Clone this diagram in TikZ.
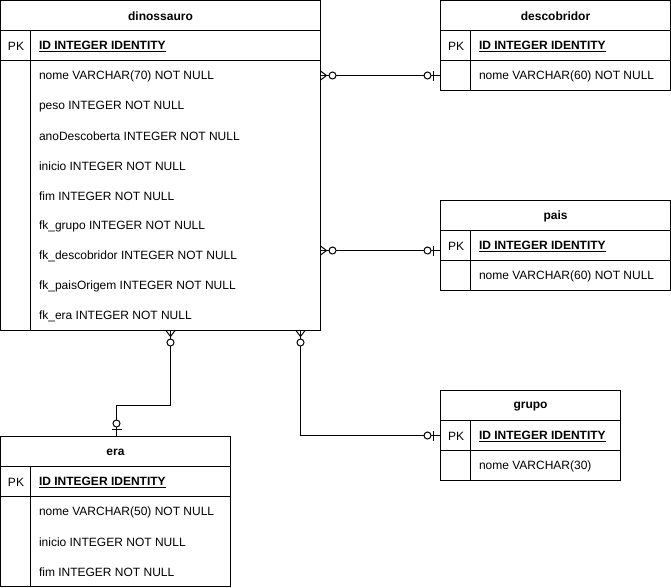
\documentclass[tikz,border=0pt]{standalone}
\usepackage{fontspec}
\setmainfont{Liberation Sans}
\begin{document}
\begin{tikzpicture}[x=1pt,y=-1pt,line width=1pt,
  font=\fontsize{12}{14}\selectfont,
  tbl/.style={draw,rectangle,inner sep=0pt,outer sep=0pt,anchor=north west},
  hdr/.style={inner sep=0pt,yshift=-0.8pt,font=\fontsize{12}{14}\selectfont\bfseries},
  txt/.style={anchor=west,inner sep=0pt,yshift=-0.8pt},
  pk/.style={anchor=west,inner sep=0pt,yshift=-0.8pt},
  idt/.style={anchor=west,inner sep=0pt,yshift=-0.8pt,font=\fontsize{12}{14}\selectfont\bfseries},
  conn/.style={draw,line width=1pt},
  zmany/.pic={\draw (0,-4.5) -- (6,0) -- (0,4.5); \draw[fill=white] (12,0) circle[radius=3.5pt];},
  zone/.pic={\draw (7,-5) -- (7,5); \draw[fill=white] (13,0) circle[radius=3.5pt];}
]
\useasboundingbox (-0.5,-0.5) rectangle (670.5,586.5);

% dinossauro
\node[tbl,minimum width=320pt,minimum height=330pt] (din) at (0,0) {};
\draw (0,30) -- (320,30) (0,60) -- (320,60) (30,30) -- (30,330);
\node[hdr] (dinH) at (160,15) {dinossauro};
\node[pk] (dinPK) at (7,45) {PK};
\node[idt] (dinID) at (38,45) {\underline{ID INTEGER IDENTITY}};
\node[txt] (dinNome) at (38,75) {nome VARCHAR(70) NOT NULL};
\node[txt] (dinPeso) at (38,105) {peso INTEGER NOT NULL};
\node[txt] (dinAno) at (38,135) {anoDescoberta INTEGER NOT NULL};
\node[txt] (dinIni) at (38,165) {inicio INTEGER NOT NULL};
\node[txt] (dinFim) at (38,195) {fim INTEGER NOT NULL};
\node[txt] (dinFkG) at (38,225) {fk\_grupo INTEGER NOT NULL};
\node[txt] (dinFkD) at (38,255) {fk\_descobridor INTEGER NOT NULL};
\node[txt] (dinFkP) at (38,285) {fk\_paisOrigem INTEGER NOT NULL};
\node[txt] (dinFkE) at (38,315) {fk\_era INTEGER NOT NULL};

% descobridor
\node[tbl,minimum width=230pt,minimum height=90pt] (desc) at (440,0) {};
\draw (440,30) -- (670,30) (440,60) -- (670,60) (470,30) -- (470,90);
\node[hdr] (descH) at (555,15) {descobridor};
\node[pk] (descPK) at (447,45) {PK};
\node[idt] (descID) at (478,45) {\underline{ID INTEGER IDENTITY}};
\node[txt] (descNome) at (478,75) {nome VARCHAR(60) NOT NULL};

% pais
\node[tbl,minimum width=230pt,minimum height=90pt] (pais) at (440,200) {};
\draw (440,230) -- (670,230) (440,260) -- (670,260) (470,230) -- (470,290);
\node[hdr] (paisH) at (555,215) {pais};
\node[pk] (paisPK) at (447,245) {PK};
\node[idt] (paisID) at (478,245) {\underline{ID INTEGER IDENTITY}};
\node[txt] (paisNome) at (478,275) {nome VARCHAR(60) NOT NULL};

% grupo
\node[tbl,minimum width=180pt,minimum height=90pt] (grupo) at (440,390) {};
\draw (440,420) -- (620,420) (440,450) -- (620,450) (470,420) -- (470,480);
\node[hdr] (grupoH) at (530,405) {grupo};
\node[pk] (grupoPK) at (447,435) {PK};
\node[idt] (grupoID) at (478,435) {\underline{ID INTEGER IDENTITY}};
\node[txt] (grupoNome) at (478,465) {nome VARCHAR(30)};

% era
\node[tbl,minimum width=230pt,minimum height=150pt] (era) at (0,436) {};
\draw (0,466) -- (230,466) (0,496) -- (230,496) (30,466) -- (30,586);
\node[hdr] (eraH) at (115,451) {era};
\node[pk] (eraPK) at (7,481) {PK};
\node[idt] (eraID) at (38,481) {\underline{ID INTEGER IDENTITY}};
\node[txt] (eraNome) at (38,511) {nome VARCHAR(50) NOT NULL};
\node[txt] (eraIni) at (38,541) {inicio INTEGER NOT NULL};
\node[txt] (eraFim) at (38,571) {fim INTEGER NOT NULL};

% connector bends
\coordinate (k1) at (380,75);
\coordinate (k2) at (380,250);
\coordinate (k3) at (170,405);
\coordinate (k3b) at (116,405);
\coordinate (k4) at (300,435);

\draw[conn] (din.east |- k1) -- (desc.west |- k1);
\draw[conn] (din.east |- k2) -- (pais.west |- k2);
\draw[conn] (din.south -| k3) -- (k3) -- (k3b) -- (era.north -| k3b);
\draw[conn] (din.south -| k4) -- (k4) -- (grupo.west |- k4);

\pic[rotate=0] at (din.east |- k1) {zmany};
\pic[rotate=180] at (desc.west |- k1) {zone};
\pic[rotate=0] at (din.east |- k2) {zmany};
\pic[rotate=180] at (pais.west |- k2) {zone};
\pic[rotate=-90] at (din.south -| k3) {zmany};
\pic[rotate=90] at (era.north -| k3b) {zone};
\pic[rotate=-90] at (din.south -| k4) {zmany};
\pic[rotate=180] at (grupo.west |- k4) {zone};
\end{tikzpicture}
\end{document}
